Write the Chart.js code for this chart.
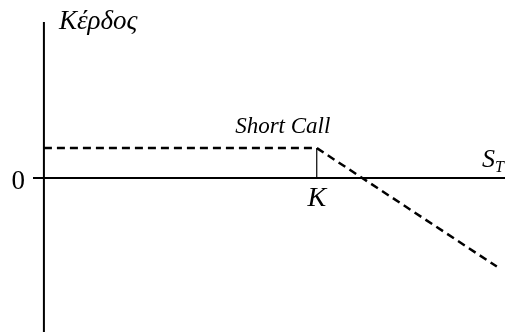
<!DOCTYPE html>
<html>
<head>
<meta charset="utf-8">
<script src="https://cdn.jsdelivr.net/npm/chart.js@4"></script>
<style>
html,body{margin:0;padding:0;background:#fff;}
#wrap{width:511px;height:332px;position:relative;}
</style>
</head>
<body>
<div id="wrap"><canvas id="c" width="511" height="332"></canvas></div>
<script>
// Data
const strike = 100;          // K
const premium = 10;          // premium received
const payoffX = [0, 100, 166];
const payoffY = [10, 10, -29.5];
const xRange = [-4, 169];
const yRange = [-51.3, 52];
const labels = {yTitle: 'Κέρδος', series: 'Short Call', xTitle: 'S', xSub: 'T', zero: '0', strike: 'K'};

const payoff = payoffX.map((x, i) => ({x: x, y: payoffY[i]}));
const xAxisLine = [{x: xRange[0], y: 0}, {x: xRange[1], y: 0}];
const yAxisLine = [{x: 0, y: yRange[0]}, {x: 0, y: yRange[1]}];
const strikeLine = [{x: strike, y: 0}, {x: strike, y: premium}];

const textPlugin = {
  id: 'texts',
  afterDatasetsDraw(chart) {
    const ctx = chart.ctx;
    const xs = chart.scales.x, ys = chart.scales.y;
    ctx.save();
    ctx.fillStyle = '#000';
    ctx.textBaseline = 'alphabetic';
    // y title
    ctx.font = 'italic 27px "Liberation Serif"';
    ctx.textAlign = 'left';
    ctx.fillText(labels.yTitle, xs.getPixelForValue(0) + 15, ys.getPixelForValue(yRange[1]) + 7);
    // series label
    ctx.font = 'italic 23px "Liberation Serif"';
    ctx.textAlign = 'center';
    ctx.fillText(labels.series, xs.getPixelForValue(strike) - 34, ys.getPixelForValue(premium) - 15);
    // S_T
    ctx.font = 'italic 26px "Liberation Serif"';
    ctx.textAlign = 'left';
    const sx = xs.getPixelForValue(xRange[1]) - 23, sy = ys.getPixelForValue(0) - 11;
    ctx.fillText(labels.xTitle, sx, sy);
    ctx.font = 'italic 16px "Liberation Serif"';
    ctx.fillText(labels.xSub, sx + 13, sy + 5);
    // zero
    ctx.font = '27px "Liberation Serif"';
    ctx.textAlign = 'right';
    ctx.fillText(labels.zero, xs.getPixelForValue(xRange[0]) - 8, ys.getPixelForValue(0) + 11);
    // K
    ctx.font = 'italic 28px "Liberation Serif"';
    ctx.textAlign = 'center';
    ctx.fillText(labels.strike, xs.getPixelForValue(strike), ys.getPixelForValue(0) + 28);
    ctx.restore();
  }
};

new Chart(document.getElementById('c'), {
  type: 'line',
  data: {
    datasets: [
      {data: xAxisLine, borderColor: '#000', borderWidth: 2, pointRadius: 0},
      {data: yAxisLine, borderColor: '#000', borderWidth: 2, pointRadius: 0},
      {data: strikeLine, borderColor: '#000', borderWidth: 1.2, pointRadius: 0},
      {data: payoff, borderColor: '#000', borderWidth: 2.5, borderDash: [8, 5], pointRadius: 0, tension: 0}
    ]
  },
  options: {
    responsive: false,
    animation: false,
    parsing: true,
    layout: {padding: {left: 33, right: 6, top: 22, bottom: 0}},
    plugins: {legend: {display: false}, tooltip: {enabled: false}},
    scales: {
      x: {type: 'linear', display: false, min: xRange[0], max: xRange[1]},
      y: {type: 'linear', display: false, min: yRange[0], max: yRange[1]}
    }
  },
  plugins: [textPlugin]
});
</script>
</body>
</html>
